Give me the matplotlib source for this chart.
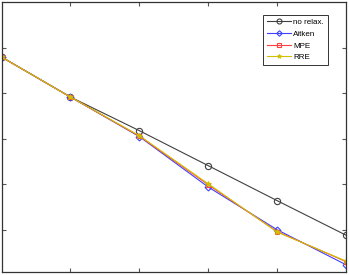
import numpy as np
import matplotlib.pyplot as plt

# iteration index and log residuals
iters = [1, 2, 3, 4, 5, 6]
no_relax = [-0.20, -1.08, -1.82, -2.59, -3.36, -4.12]
aitken = [-0.20, -1.08, -1.95, -3.06, -4.00, -4.77]
mpe = [-0.20, -1.08, -1.94, -3.01, -4.04, -4.70]
rre = [-0.20, -1.08, -1.93, -2.99, -4.05, -4.69]

fig = plt.figure(figsize=(3.49, 2.75), dpi=100)
ax = fig.add_axes([1.5 / 349, 3 / 275, 344.5 / 349, 270 / 275])

ax.plot(iters, no_relax, color='#404040', lw=0.8, marker='o', ms=4.5, mfc='none', mew=0.8, label='no relax.')
ax.plot(iters, aitken, color='#4040ff', lw=0.8, marker='D', ms=3.5, mfc='none', mew=0.8, label='Aitken')
ax.plot(iters, mpe, color='#ff4040', lw=0.8, marker='s', ms=3.5, mfc='none', mew=0.8, label='MPE')
ax.plot(iters, rre, color='#d0c000', lw=0.8, marker='*', ms=4, mew=0.6, label='RRE')

ax.set_xlim(1, 6)
ax.set_ylim(-4.93, 1.01)
ax.set_xticks([2, 3, 4, 5])
ax.set_yticks([-4, -3, -2, -1, 0])
ax.tick_params(direction='in', length=3, top=True, right=True,
               labelbottom=False, labelleft=False, color='#555555')
for s in ax.spines.values():
    s.set_color('#333333')
    s.set_linewidth(0.9)

leg = ax.legend(loc='upper right', bbox_to_anchor=(0.947, 0.952), borderaxespad=0,
                prop={'family': 'Liberation Sans', 'size': 5.8},
                fancybox=False, framealpha=1, edgecolor='#333333',
                handlelength=3.0, handletextpad=0.3, borderpad=0.45,
                labelspacing=0.5, markerscale=0.8)
leg.get_frame().set_linewidth(0.7)

fig.savefig('out.png', dpi=100)
